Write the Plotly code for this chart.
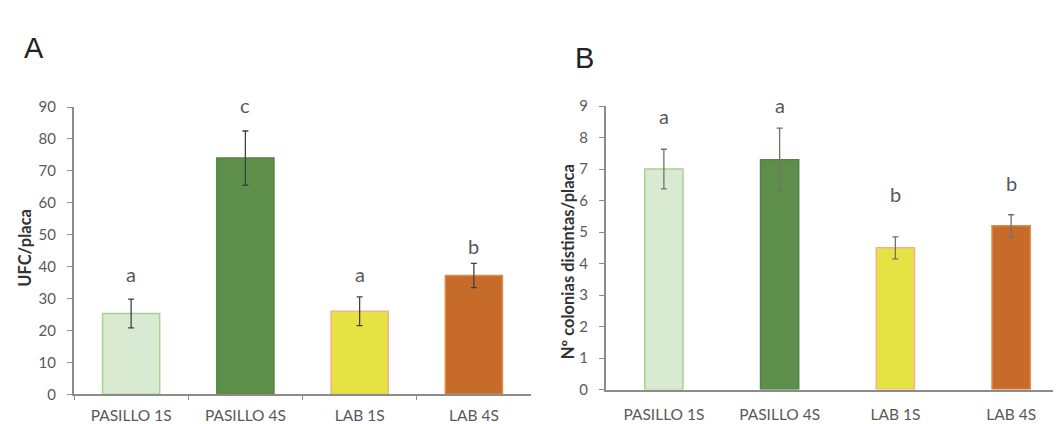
import plotly.graph_objects as go

categories = ["PASILLO 1S", "PASILLO 4S", "LAB 1S", "LAB 4S"]
ufc_mean = [25.3, 74.0, 26.0, 37.2]
ufc_err = [4.5, 8.5, 4.5, 3.8]
ufc_letters = ["a", "c", "a", "b"]
ufc_letter_y = [34.8, 87.9, 34.8, 43.8]

col_mean = [7.0, 7.3, 4.5, 5.2]
col_err = [0.63, 1.0, 0.35, 0.35]
col_letters = ["a", "a", "b", "b"]
col_letter_y = [8.39, 8.75, 5.93, 6.26]

fills = ["#d9ead3", "#5d8f4b", "#e5e244", "#c76b2b"]
borders = ["#a9d18e", "#548445", "#f4b183", "#e0894a"]

W, H = 1061, 424
FONT = "Lato"
GREY = "#595959"
AXIS = "#8c8c8c"

fig = go.Figure()
fig.add_trace(go.Bar(
    x=categories, y=ufc_mean, width=0.5,
    marker=dict(color=fills, line=dict(color=borders, width=1.5)),
    error_y=dict(type="data", array=ufc_err, color="#404040", thickness=1.3, width=3),
    xaxis="x", yaxis="y", showlegend=False))
fig.add_trace(go.Bar(
    x=categories, y=col_mean, width=0.33,
    marker=dict(color=fills, line=dict(color=borders, width=1.5)),
    error_y=dict(type="data", array=col_err, color="#707070", thickness=1.3, width=3),
    xaxis="x2", yaxis="y2", showlegend=False))

def px(x):
    return x / W

def py(y):
    return 1 - y / H

tickfont = dict(family=FONT, size=15, color=GREY)
catfont = dict(family=FONT, size=15.5, color=GREY)

fig.update_layout(
    width=W, height=H, margin=dict(l=0, r=0, t=0, b=0),
    paper_bgcolor="white", plot_bgcolor="white",
    xaxis=dict(domain=[px(66), px(523)], anchor="y", type="category",
               range=[-0.5, 3.5], showline=True, linecolor=AXIS, linewidth=2,
               ticks="outside", tickson="boundaries", ticklen=4, tickcolor=AXIS,
               tickfont=catfont, ticklabelstandoff=6, showgrid=False, zeroline=False),
    yaxis=dict(domain=[py(393), py(93)], anchor="x", range=[0, 90], dtick=10,
               showline=True, linecolor=AXIS, linewidth=2, ticks="outside", ticklen=5,
               tickcolor=AXIS, tickfont=tickfont, ticklabelstandoff=8,
               showgrid=False, zeroline=False),
    xaxis2=dict(domain=[px(598), px(1061)], anchor="y2", type="category",
                range=[-0.5, 3.5], showline=True, linecolor=AXIS, linewidth=2,
                ticks="", tickfont=catfont, ticklabelstandoff=10,
                showgrid=False, zeroline=False),
    yaxis2=dict(domain=[py(388), py(92)], anchor="x2", range=[0, 9], dtick=1,
                showline=True, linecolor=AXIS, linewidth=2, ticks="outside", ticklen=5,
                tickcolor=AXIS, tickfont=tickfont, ticklabelstandoff=8,
                showgrid=False, zeroline=False),
)

annotations = []
for c, t, y in zip(categories, ufc_letters, ufc_letter_y):
    annotations.append(dict(x=c, y=y, xref="x", yref="y", text=t, showarrow=False,
                            yanchor="bottom", yshift=-5,
                            font=dict(family=FONT, size=20, color=GREY)))
for c, t, y in zip(categories, col_letters, col_letter_y):
    annotations.append(dict(x=c, y=y, xref="x2", yref="y2", text=t, showarrow=False,
                            yanchor="bottom", yshift=-5,
                            font=dict(family=FONT, size=20, color=GREY)))
annotations += [
    dict(x=px(17), y=py(240), xref="paper", yref="paper", text="<b>UFC/placa</b>",
         textangle=-90, showarrow=False, xanchor="center", yanchor="middle",
         font=dict(family=FONT, size=16.5, color="#333333")),
    dict(x=px(560), y=py(255), xref="paper", yref="paper",
         text="<b>Nº colonias distintas/placa</b>",
         textangle=-90, showarrow=False, xanchor="center", yanchor="middle",
         font=dict(family=FONT, size=16.5, color="#333333")),
    dict(x=px(26), y=py(31), xref="paper", yref="paper", text="A", showarrow=False,
         xanchor="center", yanchor="middle",
         font=dict(family="Liberation Sans", size=29, color="#222222")),
    dict(x=px(576), y=py(42), xref="paper", yref="paper", text="B", showarrow=False,
         xanchor="center", yanchor="middle",
         font=dict(family="Liberation Sans", size=29, color="#222222")),
]
fig.update_layout(annotations=annotations)

fig.write_html("out.html")
